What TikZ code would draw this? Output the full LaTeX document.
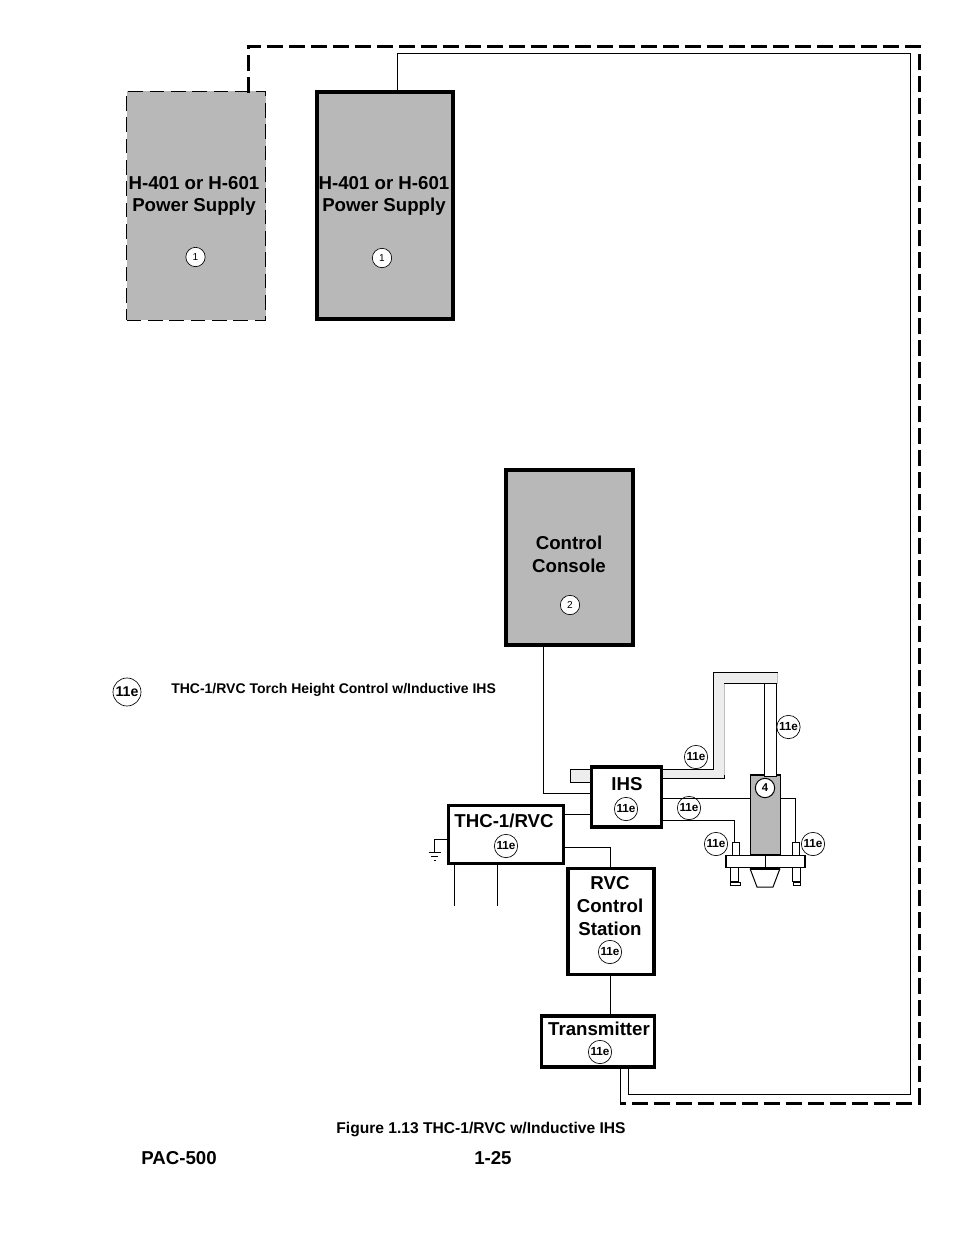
\documentclass[tikz,border=0pt]{standalone}
\usepackage{fontspec}
\setmainfont{Liberation Sans}
\tikzset{
  box/.style={draw,line width=2.5pt,inner sep=0pt,outer sep=0pt,anchor=north west},
  psbox/.style={box,fill=black!28},
  dashbox/.style={psbox,line width=0.75pt,dash pattern=on 11pt off 5pt},
  title/.style={font=\fontsize{14}{17}\selectfont\bfseries,align=center,inner sep=0pt},
  tag/.style={draw,circle,line width=0.5pt,fill=white,inner sep=0pt,minimum size=17.5pt,font=\fontsize{8.8}{9}\selectfont\bfseries},
  num/.style={tag,minimum size=14.5pt,font=\fontsize{7.6}{9}\selectfont},
  wire/.style={line width=0.75pt},
  dashwire/.style={line width=2.25pt,dash pattern=on 12pt off 4.5pt},
  tube/.style={fill=black!7},
  part/.style={draw,line width=0.75pt,fill=white,inner sep=0pt,outer sep=0pt,anchor=north west}
}
\begin{document}
\begin{tikzpicture}[x=0.75pt,y=-0.75pt]
  \useasboundingbox (0,0) rectangle (954,1235);
  % the cooling tube goes under the boxes
  \draw[tube,draw,line width=0.6pt] (570,769) rectangle (592,782);
  \fill[tube] (662,769) -- (713,769) -- (713,672.5) -- (777.5,672.5) -- (777.5,683.5)
    -- (724,683.5) -- (724,778) -- (662,778) -- cycle;
  \draw[line width=0.75pt] (662,769) -- (713,769) -- (713,672.5) -- (777.5,672.5);
  \draw[black!25,line width=0.5pt] (777.5,672.5) -- (777.5,683.5) (724,683.5) -- (724,775);
  \draw[line width=0.75pt] (662,778) -- (724,778) -- (724,775) (724,683.5) -- (765,683.5);
  % boxes
  \node[dashbox,minimum width=104.25pt,minimum height=171.75pt] (ps1) at (126.5,91) {};
  \node[psbox,minimum width=102pt,minimum height=170.25pt] (ps2) at (317,92) {};
  \node[psbox,minimum width=95.25pt,minimum height=131.25pt] (console) at (506,470) {};
  \node[box,minimum width=52.5pt,minimum height=45pt] (ihs) at (591.5,767) {};
  \node[box,minimum width=86.25pt,minimum height=43.5pt] (thc) at (448.5,805.5) {};
  \node[box,minimum width=64.5pt,minimum height=79.5pt] (rvc) at (568,868.5) {};
  \node[box,minimum width=84.75pt,minimum height=38.25pt] (tx) at (541.5,1016) {};
  % torch
  \node[part,fill=black!28,line width=1pt,minimum width=22.5pt,minimum height=60pt] (torch) at (750.5,775) {};
  \node[part,minimum width=8.6pt,minimum height=69.75pt] (mast) at (764.8,683.5) {};
  \node[part,minimum width=5.25pt,minimum height=9.75pt] (liftl) at (732,842) {};
  \node[part,minimum width=5.25pt,minimum height=9.75pt] (liftr) at (792.5,842) {};
  \node[part,line width=1.1pt,minimum width=59.25pt,minimum height=9pt] (plate) at (726,855.5) {};
  \node[part,minimum width=6pt,minimum height=10.5pt] (stemr) at (792.5,867) {};
  \node[part,minimum width=6pt,minimum height=10.5pt] (steml) at (730.5,867) {};
  \node[part,minimum width=7.5pt,minimum height=2.5pt] (footl) at (730,882) {};
  \node[part,minimum width=5.25pt,minimum height=2.5pt] (footr) at (793,882) {};
  \draw[line width=0.75pt] (750,868.5) -- (757,887) -- (773,887) -- (780,868.5);
  \draw[line width=2pt] (750,868.5) -- (780,868.5);
  \draw[line width=0.75pt] (765.5,855.5) -- (765.5,867.5);
  % texts
  \draw
    (194,196) node[title] (ps1text){H-401 or H-601\\Power Supply}
    (384,196) node[title] (ps2text){H-401 or H-601\\Power Supply}
    (569,554) node[title] (consoletext){Control\\Console}
    (627,784) node[title] (ihstext){IHS}
    (504,821) node[title] (thctext){THC-1/RVC}
    (610,906) node[title] (rvctext){RVC\\Control\\Station}
    (599,1029) node[title] (txtext){Transmitter}
    (171,690) node[anchor=west,inner sep=0pt,font=\fontsize{10.5}{12}\selectfont\bfseries] (legend){THC-1/RVC Torch Height Control w/Inductive IHS}
    (481,1129.5) node[inner sep=0pt,font=\fontsize{11.7}{13}\selectfont\bfseries] (caption){Figure 1.13 THC-1/RVC w/Inductive IHS}
    (141,1158.5) node[anchor=west,inner sep=0pt,font=\fontsize{14}{15}\selectfont\bfseries] (model){PAC-500}
    (474,1158.5) node[anchor=west,inner sep=0pt,font=\fontsize{14}{15}\selectfont\bfseries] (page){1-25};
  % tags
  \draw
    (195.5,257) node[num] (n1){1}
    (382,258) node[num] (n2){1}
    (570,605) node[num] (n3){2}
    (765,788) node[num,line width=0.75pt,font=\fontsize{8.5}{9}\selectfont\bfseries] (n4){4}
    (127,692) node[tag,minimum size=21pt,font=\fontsize{10.6}{12}\selectfont\bfseries] (e0){11e}
    (626,809) node[tag] (e1){11e}
    (506,846) node[tag] (e2){11e}
    (610,952) node[tag] (e3){11e}
    (600,1052) node[tag] (e4){11e}
    (696,757) node[tag] (e5){11e}
    (788.5,727) node[tag] (e6){11e}
    (689,808) node[tag] (e7){11e}
    (716,844) node[tag] (e8){11e}
    (813,844) node[tag] (e9){11e};
  % bends of the wires
  \coordinate (dl) at (248,46);
  \coordinate (dr) at (919,46);
  \coordinate (db) at (919,1103);
  \coordinate (dt) at (620,1103);
  \coordinate (sl) at (397.5,53);
  \coordinate (sr) at (910.5,53);
  \coordinate (sb) at (910.5,1094);
  \coordinate (st) at (628.5,1094);
  \coordinate (ci) at (543,793);
  \coordinate (tr) at (610,847);
  \coordinate (ihsa) at (662,798);
  \coordinate (ihsb) at (662,820);
  \coordinate (ra) at (795.5,798);
  \coordinate (la) at (734,820);
  \coordinate (ga) at (434.5,839);
  \coordinate (gb) at (434.5,852);
  \coordinate (legl) at (454.5,906);
  \coordinate (legr) at (497.5,906);
  \begin{scope}[wire]
    \draw (ps2.north -| sl) -- (sl) -- (sr) -- (sb) -- (st) -- (tx.south -| st);
    \draw (console.south -| ci) -- (ci) -- (ihs.west |- ci);
    \draw (thc.east |- 0,814) -- (ihs.west |- 0,814);
    \draw (thc.east |- tr) -- (tr) -- (rvc.north -| tr);
    \draw (rvc.south -| tr) -- (tx.north -| tr);
    \draw (thc.south -| legl) -- (legl);
    \draw (thc.south -| legr) -- (legr);
    \draw (thc.west |- ga) -- (ga) -- (gb);
    \draw (ihsa) -- (torch.west |- ihsa);
    \draw (torch.east |- ihsa) -- (ra) -- (liftr.north -| ra);
    \draw (ihsb) -- (la) -- (liftl.north -| la);
    \draw (tx.south -| dt) -- (dt);
    \draw (428.5,852.5) -- (440.5,852.5) (431,856.5) -- (438,856.5) (433.5,860) -- (435.5,860);
  \end{scope}
  \draw[dashwire] (ps1.north -| dl) ++(0,2) -- (dl) -- (dr) -- (db) -- (dt);
\end{tikzpicture}
\end{document}
